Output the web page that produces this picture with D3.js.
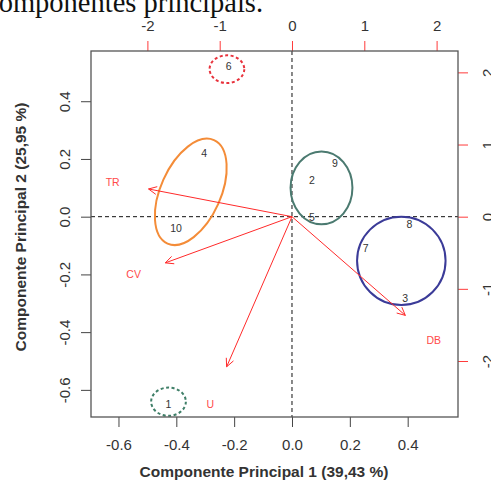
<!DOCTYPE html>
<html>
<head>
<meta charset="utf-8">
<script src="https://cdn.jsdelivr.net/npm/d3@7"></script>
<style>
  html, body { margin: 0; padding: 0; background: #fff; overflow: hidden; }
  svg { display: block; }
</style>
</head>
<body>
<div id="biplot"></div>
<script>
// scores (primary axes)
const obsLabels = ["1", "2", "3", "4", "5", "6", "7", "8", "9", "10"];
const obsPc1 = [-0.427, 0.069, 0.391, -0.304, 0.069, -0.219, 0.255, 0.406, 0.148, -0.401];
const obsPc2 = [-0.649, 0.127, -0.283, 0.222, -0.002, 0.522, -0.110, -0.025, 0.185, -0.040];

// loadings (secondary axes, top/right)
const varLabels = ["TR", "CV", "DB", "U"];
const varPc1 = [-2.48, -2.19, 1.96, -1.13];
const varPc2 = [0.48, -0.80, -1.71, -2.60];

// group ellipses, in score units
const grpCx = [-0.225, -0.350, 0.102, 0.378, -0.427];
const grpCy = [0.511, 0.086, 0.100, -0.153, -0.641];
const grpRx = [0.060, 0.196, 0.107, 0.153, 0.060];
const grpRy = [0.048, 0.104, 0.126, 0.153, 0.049];
const grpAngle = [0, 65.8, 0, 0, 0];
const grpColor = ["#e8323c", "#f48c38", "#4b7a70", "#3b3b98", "#3f7f68"];
const grpDash = ["3,2.5", null, null, null, "3,2.5"];

const xTicks = [-0.6, -0.4, -0.2, 0.0, 0.2, 0.4];
const yTicks = [-0.6, -0.4, -0.2, 0.0, 0.2, 0.4];
const topTicks = [-2, -1, 0, 1, 2];
const rightTicks = [-2, -1, 0, 1, 2];

const xLim = [-0.695, 0.574];
const yLim = [-0.694, 0.574];
const ratio = 4;

const width = 491, height = 484;
const box = { left: 91, right: 458, top: 51, bottom: 417 };

const svg = d3.select("#biplot").append("svg")
  .attr("width", width)
  .attr("height", height)
  .style("font-family", "'Liberation Sans', Arial, sans-serif");

// caption from the page, cut at the top
svg.append("text")
  .attr("x", -14)
  .attr("y", 12)
  .style("font-family", "'Liberation Serif', 'Times New Roman', serif")
  .style("font-size", "28.5px")
  .attr("fill", "#111")
  .text("componentes principais.");

const x = d3.scaleLinear().domain(xLim).range([box.left, box.right]);
const y = d3.scaleLinear().domain(yLim).range([box.bottom, box.top]);
const xTop = d3.scaleLinear().domain([xLim[0] * ratio, xLim[1] * ratio]).range([box.left, box.right]);
const yRight = d3.scaleLinear().domain([yLim[0] * ratio, yLim[1] * ratio]).range([box.bottom, box.top]);

// R style labels with plain hyphen minus
const fmt1 = d => d.toFixed(1);
const fmt0 = d => String(d);
const tickLen = 10;

// bottom axis
const bottomAxis = svg.append("g")
  .attr("transform", `translate(0,${box.bottom})`)
  .call(d3.axisBottom(x).tickValues(xTicks).tickFormat(fmt1).tickSize(tickLen).tickPadding(12));
bottomAxis.select(".domain").remove();
bottomAxis.selectAll("line").attr("stroke", "#444");
bottomAxis.selectAll("text").style("font-size", "15px").attr("fill", "#333");

// left axis, rotated labels
const leftAxis = svg.append("g")
  .attr("transform", `translate(${box.left},0)`)
  .call(d3.axisLeft(y).tickValues(yTicks).tickFormat(fmt1).tickSize(tickLen));
leftAxis.select(".domain").remove();
leftAxis.selectAll("line").attr("stroke", "#444");
leftAxis.selectAll("text")
  .attr("x", null).attr("dy", null)
  .attr("text-anchor", "middle")
  .attr("transform", "translate(-21,0) rotate(-90)")
  .style("font-size", "15px").attr("fill", "#333");

// top axis (loadings)
const topAxis = svg.append("g")
  .attr("transform", `translate(0,${box.top})`)
  .call(d3.axisTop(xTop).tickValues(topTicks).tickFormat(fmt0).tickSize(tickLen).tickPadding(10));
topAxis.select(".domain").remove();
topAxis.selectAll("line").attr("stroke", "#ff3b3b");
topAxis.selectAll("text").style("font-size", "15px").attr("fill", "#333");

// right axis (loadings), labels mostly off the page
const rightAxis = svg.append("g")
  .attr("transform", `translate(${box.right},0)`)
  .call(d3.axisRight(yRight).tickValues(rightTicks).tickFormat(fmt0).tickSize(tickLen));
rightAxis.select(".domain").remove();
rightAxis.selectAll("line").attr("stroke", "#ff3b3b");
rightAxis.selectAll("text")
  .attr("x", null).attr("dy", null)
  .attr("text-anchor", "middle")
  .attr("transform", "translate(35,0) rotate(-90)")
  .style("font-size", "15px").attr("fill", "#333");

// axis titles
svg.append("text")
  .attr("x", 264)
  .attr("y", 477)
  .attr("text-anchor", "middle")
  .style("font-size", "15.5px")
  .style("font-weight", "bold")
  .attr("fill", "#333")
  .text("Componente Principal 1 (39,43 %)");

svg.append("text")
  .attr("transform", "translate(26,227) rotate(-90)")
  .attr("text-anchor", "middle")
  .style("font-size", "15.5px")
  .style("font-weight", "bold")
  .attr("fill", "#333")
  .text("Componente Principal 2 (25,95 %)");

const plot = svg.append("g");

// reference lines through origin
plot.append("line")
  .attr("x1", x(0)).attr("x2", x(0))
  .attr("y1", box.top).attr("y2", box.bottom)
  .attr("stroke", "#111").attr("stroke-width", 1).attr("stroke-dasharray", "4,3");
plot.append("line")
  .attr("x1", box.left).attr("x2", box.right)
  .attr("y1", y(0)).attr("y2", y(0))
  .attr("stroke", "#111").attr("stroke-width", 1).attr("stroke-dasharray", "4,3");

// group ellipses
grpCx.forEach((cx, i) => {
  const px = x(cx), py = y(grpCy[i]);
  plot.append("ellipse")
    .attr("cx", px)
    .attr("cy", py)
    .attr("rx", x(cx + grpRx[i]) - px)
    .attr("ry", py - y(grpCy[i] + grpRy[i]))
    .attr("transform", `rotate(${-grpAngle[i]},${px},${py})`)
    .attr("fill", "none")
    .attr("stroke", grpColor[i])
    .attr("stroke-width", 2)
    .attr("stroke-dasharray", grpDash[i]);
});

// arrows: R biplot draws them to 0.8 of the loading
const arrowColor = "#ff2a2a";
varLabels.forEach((lab, i) => {
  const x0 = xTop(0), y0 = yRight(0);
  const x1 = xTop(varPc1[i] * 0.8), y1 = yRight(varPc2[i] * 0.8);
  plot.append("line")
    .attr("x1", x0).attr("y1", y0).attr("x2", x1).attr("y2", y1)
    .attr("stroke", arrowColor).attr("stroke-width", 1);
  const ang = Math.atan2(y1 - y0, x1 - x0);
  const len = 9, spread = Math.PI / 7;
  const head = d3.path();
  head.moveTo(x1 - len * Math.cos(ang - spread), y1 - len * Math.sin(ang - spread));
  head.lineTo(x1, y1);
  head.lineTo(x1 - len * Math.cos(ang + spread), y1 - len * Math.sin(ang + spread));
  plot.append("path")
    .attr("d", head.toString())
    .attr("fill", "none").attr("stroke", arrowColor).attr("stroke-width", 1);
});

// variable labels
plot.selectAll(".var-label")
  .data(varLabels)
  .join("text")
  .attr("class", "var-label")
  .attr("x", (d, i) => xTop(varPc1[i]))
  .attr("y", (d, i) => yRight(varPc2[i]))
  .attr("text-anchor", "middle")
  .attr("dominant-baseline", "central")
  .style("font-size", "10.5px")
  .attr("fill", "#ff4a4a")
  .text(d => d);

// observation labels
plot.selectAll(".obs-label")
  .data(obsLabels)
  .join("text")
  .attr("class", "obs-label")
  .attr("x", (d, i) => x(obsPc1[i]))
  .attr("y", (d, i) => y(obsPc2[i]))
  .attr("text-anchor", "middle")
  .attr("dominant-baseline", "central")
  .style("font-size", "10.5px")
  .attr("fill", "#333")
  .text(d => d);

// frame
svg.append("rect")
  .attr("x", box.left).attr("y", box.top)
  .attr("width", box.right - box.left)
  .attr("height", box.bottom - box.top)
  .attr("fill", "none")
  .attr("stroke", "#555")
  .attr("stroke-width", 1.3);
</script>
</body>
</html>
